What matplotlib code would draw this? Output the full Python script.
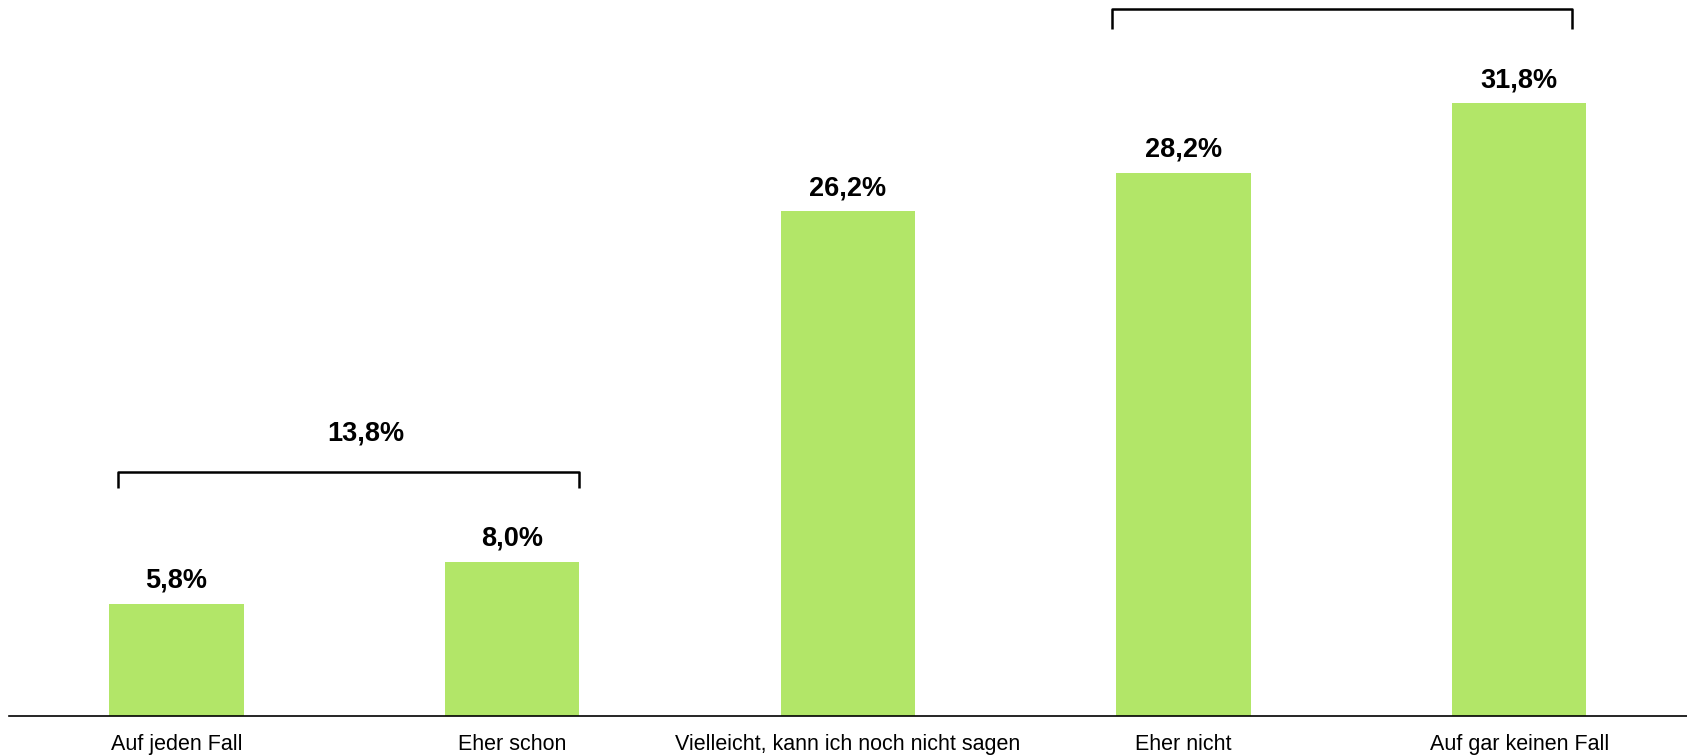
"""
Bar chart with grouping brackets, recreated in matplotlib.
Saves to out.png
"""

import matplotlib.pyplot as plt

# ---------------------------------------------------------------------------
# Data
# ---------------------------------------------------------------------------
categories = ["Auf jeden Fall", "Eher schon", "Vielleicht, kann ich noch nicht sagen",
              "Eher nicht", "Auf gar keinen Fall"]
values = [5.8, 8.0, 26.2, 28.2, 31.8]
value_labels = ["5,8%", "8,0%", "26,2%", "28,2%", "31,8%"]

# brackets: (x start, x end, y of the bar, y of the tick ends)
bracket_x = [(-0.174, 1.198), (2.787, 4.156)]
bracket_y = [(12.66, 11.82), (36.70, 35.66)]
bracket_label = "13,8%"
bracket_label_pos = (0.565, 14.28)

C_BAR = "#b2e668"
FONT = "Liberation Sans"

fig = plt.figure(figsize=(16.87, 7.55), dpi=100)
ax = fig.add_axes([0.0051, 0.0523, 0.9949, 0.9477])

x = list(range(len(categories)))
ax.bar(x, values, width=0.4, color=C_BAR, zorder=2)

for xi, v, lab in zip(x, values, value_labels):
    ax.annotate(lab, xy=(xi, v), xytext=(0, 11.5), textcoords="offset points",
                ha="center", va="baseline", fontsize=19.5, fontweight="bold",
                family=FONT, color="black")

# brackets
for (x0, x1), (yh, yt) in zip(bracket_x, bracket_y):
    ax.plot([x0, x0, x1, x1], [yt, yh, yh, yt], color="black", lw=1.8,
            solid_joinstyle="round", solid_capstyle="butt", clip_on=False, zorder=3)

ax.text(bracket_label_pos[0], bracket_label_pos[1], bracket_label,
        ha="center", va="baseline", fontsize=19.5, fontweight="bold",
        family=FONT, color="black")

ax.set_xlim(-0.5, 4.5)
ax.set_ylim(0, 37.17)

for s in ["top", "left", "right"]:
    ax.spines[s].set_visible(False)
ax.spines["bottom"].set_linewidth(1.2)
ax.spines["bottom"].set_color("black")
ax.set_yticks([])
ax.set_xticks(x)
ax.set_xticklabels(categories, fontsize=15.5, family=FONT, color="black")
ax.tick_params(axis="x", length=0, pad=13)

fig.savefig("out.png", dpi=100, facecolor="white")
plt.close()
